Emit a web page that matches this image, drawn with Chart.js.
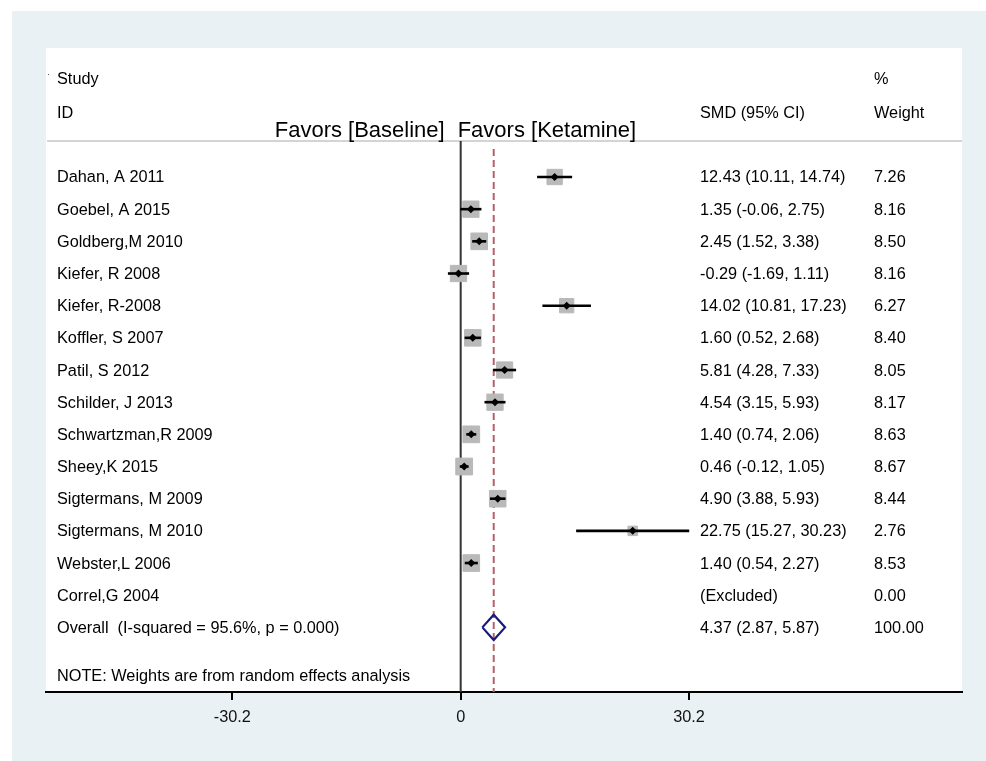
<!DOCTYPE html>
<html>
<head>
<meta charset="utf-8">
<script src="https://cdn.jsdelivr.net/npm/chart.js@4.4.1/dist/chart.umd.min.js"></script>
<style>
html,body{margin:0;padding:0;background:#fff;}
#wrap{width:986px;height:761px;position:relative;}
</style>
</head>
<body>
<div id="wrap"><canvas id="c" width="986" height="761"></canvas></div>
<script>
// ---- data ----
const studies = ["Dahan, A 2011","Goebel, A 2015","Goldberg,M 2010","Kiefer, R 2008","Kiefer, R-2008","Koffler, S 2007","Patil, S 2012","Schilder, J 2013","Schwartzman,R 2009","Sheey,K 2015","Sigtermans, M 2009","Sigtermans, M 2010","Webster,L 2006","Correl,G 2004"];
const smd     = [12.43, 1.35, 2.45, -0.29, 14.02, 1.60, 5.81, 4.54, 1.40, 0.46, 4.90, 22.75, 1.40, null];
const ciLow   = [10.11, -0.06, 1.52, -1.69, 10.81, 0.52, 4.28, 3.15, 0.74, -0.12, 3.88, 15.27, 0.54, null];
const ciHigh  = [14.74, 2.75, 3.38, 1.11, 17.23, 2.68, 7.33, 5.93, 2.06, 1.05, 5.93, 30.23, 2.27, null];
const weights = [7.26, 8.16, 8.50, 8.16, 6.27, 8.40, 8.05, 8.17, 8.63, 8.67, 8.44, 2.76, 8.53, 0.00];
const overallLabel = "Overall  (I-squared = 95.6%, p = 0.000)";
const overall = {est: 4.37, low: 2.87, high: 5.87, weight: 100.00};
const tickValues = [-30.2, 0, 30.2];
const tickLabels = ["-30.2", "0", "30.2"];
const headerLeft = ["Study", "ID"];
const headerSmd = "SMD (95% CI)";
const headerWeight = ["%", "Weight"];
const favorsLeft = "Favors [Baseline]";
const favorsRight = "Favors [Ketamine]";
const noteText = "NOTE: Weights are from random effects analysis";

// ---- layout constants ----
const FONT = '"Liberation Sans", Arial, Helvetica, sans-serif';
const TXT = 16.3;
const nStudies = studies.length;
const overallRow = nStudies;
const fmt = v => v.toFixed(2);

const ciDatasets = [];
studies.forEach((s, i) => {
  if (smd[i] === null) return;
  ciDatasets.push({
    type: 'line', data: [{x: ciLow[i], y: i}, {x: ciHigh[i], y: i}],
    borderColor: '#000', borderWidth: 2.6, pointRadius: 0, showLine: true, order: 2
  });
});

const boxData = [], boxRadius = [];
studies.forEach((s, i) => {
  if (smd[i] === null) return;
  boxData.push({x: smd[i], y: i});
  boxRadius.push(Math.sqrt(weights[i]) * 5.7 / Math.SQRT2);
});
const estData = boxData.map(p => ({x: p.x, y: p.y}));

const dh = 0.395;
const diamond = [
  {x: overall.low, y: overallRow}, {x: overall.est, y: overallRow - dh},
  {x: overall.high, y: overallRow}, {x: overall.est, y: overallRow + dh},
  {x: overall.low, y: overallRow}
];

const yMin = -4.01, yMax = 16.009;

const bgPlugin = {
  id: 'bg',
  beforeDraw(chart) {
    const ctx = chart.ctx, a = chart.chartArea;
    ctx.save();
    ctx.fillStyle = '#ffffff';
    ctx.fillRect(0, 0, chart.width, chart.height);
    ctx.fillStyle = '#eaf1f4';
    ctx.fillRect(12, 11, chart.width - 12, chart.height - 11);
    ctx.fillStyle = '#ffffff';
    ctx.fillRect(a.left, a.top, a.right - a.left, a.bottom - a.top);
    // header separator
    const ys = chart.scales.y;
    const hy = ys.getPixelForValue(-1.12);
    ctx.strokeStyle = '#c6c6c6';
    ctx.lineWidth = 1.5;
    ctx.beginPath(); ctx.moveTo(a.left + 1, hy); ctx.lineTo(a.right, hy); ctx.stroke();
    // stray dot from the original export
    ctx.fillStyle = '#555';
    ctx.fillRect(a.left + 2, ys.getPixelForValue(-3.2), 1, 1);
    ctx.restore();
  }
};

const textPlugin = {
  id: 'texts',
  afterDraw(chart) {
    const ctx = chart.ctx, ys = chart.scales.y;
    const xStudy = 57, xSmd = 700, xW = 874;
    ctx.save();
    ctx.fillStyle = '#000';
    ctx.textBaseline = 'middle';
    ctx.textAlign = 'left';
    ctx.font = TXT + 'px ' + FONT;
    ctx.fillText(headerLeft[0], xStudy, ys.getPixelForValue(-3.02));
    ctx.fillText(headerLeft[1], xStudy, ys.getPixelForValue(-1.96));
    ctx.fillText(headerSmd, xSmd, ys.getPixelForValue(-1.96));
    ctx.fillText(headerWeight[0], xW, ys.getPixelForValue(-3.02));
    ctx.fillText(headerWeight[1], xW, ys.getPixelForValue(-1.96));
    studies.forEach((s, i) => {
      const y = ys.getPixelForValue(i) + 1;
      ctx.fillText(s, xStudy, y);
      const t = smd[i] === null ? '(Excluded)' : `${fmt(smd[i])} (${fmt(ciLow[i])}, ${fmt(ciHigh[i])})`;
      ctx.fillText(t, xSmd, y);
      ctx.fillText(fmt(weights[i]), xW, y);
    });
    const oy = ys.getPixelForValue(overallRow) + 1;
    ctx.fillText(overallLabel, xStudy, oy);
    ctx.fillText(`${fmt(overall.est)} (${fmt(overall.low)}, ${fmt(overall.high)})`, xSmd, oy);
    ctx.fillText(fmt(overall.weight), xW, oy);
    ctx.fillText(noteText, xStudy, ys.getPixelForValue(15.54));
    // favors labels
    ctx.font = '22px ' + FONT;
    const fy = ys.getPixelForValue(-1.43);
    const x0 = chart.scales.x.getPixelForValue(0);
    ctx.textAlign = 'right';
    ctx.fillText(favorsLeft, x0 - 16, fy);
    ctx.textAlign = 'left';
    ctx.fillText(favorsRight, x0 - 3, fy);
    ctx.restore();
  }
};

new Chart(document.getElementById('c'), {
  data: {
    datasets: [
      {type: 'line', data: diamond, borderColor: '#1a1a78', borderWidth: 2.2, pointRadius: 0, showLine: true, fill: false, order: 0},
      {type: 'scatter', data: estData, pointStyle: 'rectRot', pointRadius: 4, backgroundColor: '#000', borderColor: '#000', borderWidth: 0, order: 1},
      ...ciDatasets,
      {type: 'scatter', data: boxData, pointStyle: 'rect', pointRadius: boxRadius, backgroundColor: '#b9b9b9', borderColor: '#b9b9b9', borderWidth: 1, order: 3},
      {type: 'line', data: [{x: 0, y: -1.12}, {x: 0, y: yMax}], borderColor: '#333', borderWidth: 2, pointRadius: 0, order: 4},
      {type: 'line', data: [{x: overall.est, y: -0.87}, {x: overall.est, y: yMax}], borderColor: '#b4606b', borderWidth: 2, borderDash: [7, 4], pointRadius: 0, order: 4}
    ]
  },
  options: {
    responsive: false,
    animation: false,
    events: [],
    layout: {padding: {left: 46, right: 24, top: 48, bottom: 24}},
    plugins: {legend: {display: false}, tooltip: {enabled: false}},
    scales: {
      x: {
        type: 'linear', min: -54.85, max: 66.31,
        afterBuildTicks(scale) { scale.ticks = tickValues.map(v => ({value: v})); },
        afterFit(scale) { scale.height = 45; },
        ticks: {
          autoSkip: false, maxRotation: 0, padding: 8, color: '#111',
          font: {family: FONT, size: TXT},
          callback: (v, i) => tickLabels[i]
        },
        grid: {drawOnChartArea: false, drawTicks: true, tickLength: 8, color: '#000', lineWidth: 2},
        border: {display: true, color: '#000', width: 2}
      },
      y: {type: 'linear', min: yMin, max: yMax, reverse: true, display: false}
    }
  },
  plugins: [bgPlugin, textPlugin]
});
</script>
</body>
</html>
